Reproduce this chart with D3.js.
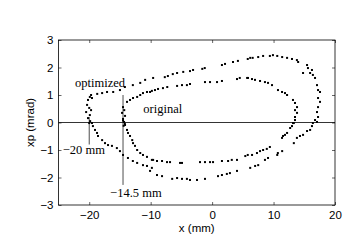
<!DOCTYPE html>
<html lang="en">
<head>
  <meta charset="UTF-8" />
  <title>optimized vs original</title>
  <style>
    body { margin: 0; background: #fff; }
    svg { display: block; }
    .tick text { font-family: "Liberation Sans", Arial, sans-serif; font-size: 11.5px; }
  </style>
  <script src="https://cdn.jsdelivr.net/npm/d3@7"></script>
</head>
<body>
<script>
// optimized ring (outer)
const optX = [-20.2,-19.9,-19.7,-19.55,-20.35,-20.0,-19.7,-20.5,-19.9,-20.2,-19.85,-20.0,
  -18.7,-17.9,-17.1,-16.1,-15.0,-14.2,-12.9,-11.7,-10.9,-9.6,
  -7.7,-7.2,-6.4,-5.7,-4.7,-3.6,-3.1,-1.6,-1.2,1.6,2.1,3.4,4.2,6.2,
  5.8,6.6,7.5,8.3,9.4,9.9,10.6,11.4,12.2,13.0,13.8,14.0,
  15.45,15.6,16.25,15.95,14.8,16.4,16.75,17.07,17.24,17.56,17.24,17.56,17.24,17.07,17.24,17.07,
  16.75,16.4,16.25,15.95,15.45,14.8,14.3,13.8,13.3,
  11.4,10.7,10.6,9.1,8.6,7.5,7.0,6.2,
  -10.1,-8.97,-8.15,-6.5,-5.7,-4.9,-4.1,-3.6,-2.46,-1.16,0.96,1.6,2.4,2.9,4.05,
  -19.55,-19.4,-19.06,-18.73,-18.57,-17.9,-17.43,-16.94,-16.3,-15.5,-15.0,-14.5,-13.7,-12.9,-12.2,-11.25,-10.6,-9.8];
const optY = [0.82,0.93,1.0,0.89,0.64,0.53,0.45,0.38,0.27,0.16,0.05,-0.02,
  1.04,1.07,1.11,1.11,1.18,1.29,1.36,1.44,1.55,1.62,
  1.65,1.69,1.76,1.8,1.84,1.87,1.91,1.95,1.98,2.09,2.13,2.2,2.24,2.35,
  2.31,2.35,2.38,2.42,2.42,2.45,2.42,2.38,2.35,2.31,2.27,2.2,
  2.09,1.98,1.91,1.8,1.8,1.73,1.62,1.36,1.18,1.11,0.89,0.75,0.56,0.38,0.2,0.02,
  0.09,-0.02,-0.13,-0.27,-0.31,-0.45,-0.49,-0.56,-0.75,
  -1.04,-1.11,-1.18,-1.29,-1.36,-1.55,-1.58,-1.65,
  -1.76,-1.91,-1.95,-2.05,-2.02,-2.05,-2.05,-2.09,-2.09,-2.05,-1.95,-1.91,-1.87,-1.84,-1.76,
  -0.02,-0.13,-0.27,-0.38,-0.49,-0.64,-0.75,-0.82,-0.85,-0.93,-1.04,-1.18,-1.29,-1.4,-1.47,-1.55,-1.58,-1.65];

// original ring (inner)
const origX = [-14.5,-14.3,-14.66,-14.17,-14.5,-14.33,-14.5,-14.2,-14.4,
  -13.85,-13.36,-12.87,-12.2,-11.7,-11.25,-10.6,-9.8,
  -10.1,-9.3,-8.8,-8.0,-7.3,-5.7,-4.9,-4.1,-3.6,-1.16,-0.34,0.8,1.6,4.05,4.5,5.7,
  5.84,6.49,6.98,7.8,8.6,9.1,9.75,10.72,11.38,11.86,12.2,
  13.16,13.49,13.82,13.49,13.82,13.49,13.49,13.3,
  13.49,13.16,13.0,12.7,12.2,11.86,11.54,11.38,
  9.4,8.9,8.3,7.8,7.3,6.5,5.8,5.4,
  -9.6,-8.97,-8.15,-7.34,-6.85,-5.22,-4.9,-1.97,-1.16,-0.34,0.15,1.6,2.6,3.2,4.05,
  -14.17,-13.85,-13.69,-13.36,-13.0,-12.87,-12.55,-12.2,-11.7,-11.25,-10.6,-9.8];
const origY = [0.56,0.45,0.35,0.24,0.13,0.02,0.07,-0.05,-0.12,
  0.75,0.82,0.89,0.93,1.0,1.07,1.11,1.15,
  1.11,1.18,1.22,1.25,1.29,1.33,1.36,1.36,1.4,1.47,1.47,1.47,1.51,1.58,1.62,1.62,
  1.62,1.58,1.55,1.51,1.47,1.44,1.36,1.18,1.11,1.07,1.0,
  0.82,0.71,0.56,0.45,0.35,0.2,0.09,-0.02,
  0.09,-0.02,-0.13,-0.2,-0.38,-0.45,-0.49,-0.56,
  -0.89,-0.96,-1.0,-1.04,-1.11,-1.18,-1.18,-1.22,
  -1.36,-1.4,-1.4,-1.44,-1.44,-1.47,-1.47,-1.44,-1.44,-1.44,-1.44,-1.4,-1.4,-1.36,-1.36,
  -0.09,-0.27,-0.38,-0.49,-0.64,-0.75,-0.85,-1.0,-1.11,-1.18,-1.25,-1.36];

const xTicks = [-20, -10, 0, 10, 20];
const yTicks = [-3, -2, -1, 0, 1, 2, 3];

const W = 346, H = 241;
const mLeft = 58.5, mRight = 335, mTop = 40, mBottom = 205;

const x = d3.scaleLinear().domain([-25, 20]).range([mLeft, mRight]);
const y = d3.scaleLinear().domain([-3, 3]).range([mBottom, mTop]);

const svg = d3.select("body").append("svg")
  .attr("width", W).attr("height", H);

const minus = d => d < 0 ? "\u2212" + Math.abs(d) : d;

// axes, ticks pointing inward like matlab
svg.append("g").attr("transform", `translate(0,${mBottom})`)
  .call(d3.axisBottom(x).tickValues(xTicks).tickSizeInner(-3).tickSizeOuter(0).tickPadding(6)
    .tickFormat(minus));
svg.append("g").attr("transform", `translate(0,${mTop})`)
  .call(d3.axisTop(x).tickValues(xTicks).tickSizeInner(-3).tickSizeOuter(0).tickFormat(""));
svg.append("g").attr("transform", `translate(${mLeft},0)`)
  .call(d3.axisLeft(y).tickValues(yTicks).tickSizeInner(-3).tickSizeOuter(0).tickPadding(5)
    .tickFormat(minus));
svg.append("g").attr("transform", `translate(${mRight},0)`)
  .call(d3.axisRight(y).tickValues(yTicks).tickSizeInner(-3).tickSizeOuter(0).tickFormat(""));

svg.selectAll(".domain").remove();
svg.selectAll(".tick line").attr("stroke", "#000").attr("stroke-width", 0.6);

svg.append("rect")
  .attr("x", mLeft).attr("y", mTop)
  .attr("width", mRight - mLeft).attr("height", mBottom - mTop)
  .attr("fill", "none").attr("stroke", "#000").attr("stroke-width", 0.8);

// zero line
svg.append("line")
  .attr("x1", x(-25)).attr("x2", x(20)).attr("y1", y(0)).attr("y2", y(0))
  .attr("stroke", "#000").attr("stroke-width", 0.8);

// marker lines
svg.append("line")
  .attr("x1", x(-20)).attr("x2", x(-20)).attr("y1", y(0.2)).attr("y2", y(-0.8))
  .attr("stroke", "#000").attr("stroke-width", 0.7);
svg.append("line")
  .attr("x1", x(-14.5)).attr("x2", x(-14.5)).attr("y1", y(1.0)).attr("y2", y(-2.27))
  .attr("stroke", "#000").attr("stroke-width", 0.7);

function dots(xs, ys) {
  svg.append("g").selectAll("rect")
    .data(d3.range(xs.length))
    .join("rect")
    .attr("x", i => x(xs[i]) - 1)
    .attr("y", i => y(ys[i]) - 1)
    .attr("width", 2).attr("height", 2)
    .attr("fill", "#000");
}
dots(optX, optY);
dots(origX, origY);

const serif = '"Liberation Serif", "Times New Roman", serif';
const note = (tx, ty, s) => svg.append("text")
  .attr("x", x(tx)).attr("y", y(ty))
  .attr("font-family", serif).attr("font-size", 12.5).text(s);
note(-22.3, 1.3, "optimized");
note(-11.2, 0.35, "original");
note(-24.3, -1.15, "\u221220 mm");
note(-16.6, -2.7, "\u221214.5 mm");

svg.append("text")
  .attr("x", x(-2.5)).attr("y", 232)
  .attr("text-anchor", "middle")
  .attr("font-family", "Liberation Sans, Arial, sans-serif").attr("font-size", 11.5)
  .text("x (mm)");
svg.append("text")
  .attr("transform", `translate(34,${y(0)}) rotate(-90)`)
  .attr("text-anchor", "middle")
  .attr("font-family", "Liberation Sans, Arial, sans-serif").attr("font-size", 11.5)
  .text("xp (mrad)");
</script>
</body>
</html>
